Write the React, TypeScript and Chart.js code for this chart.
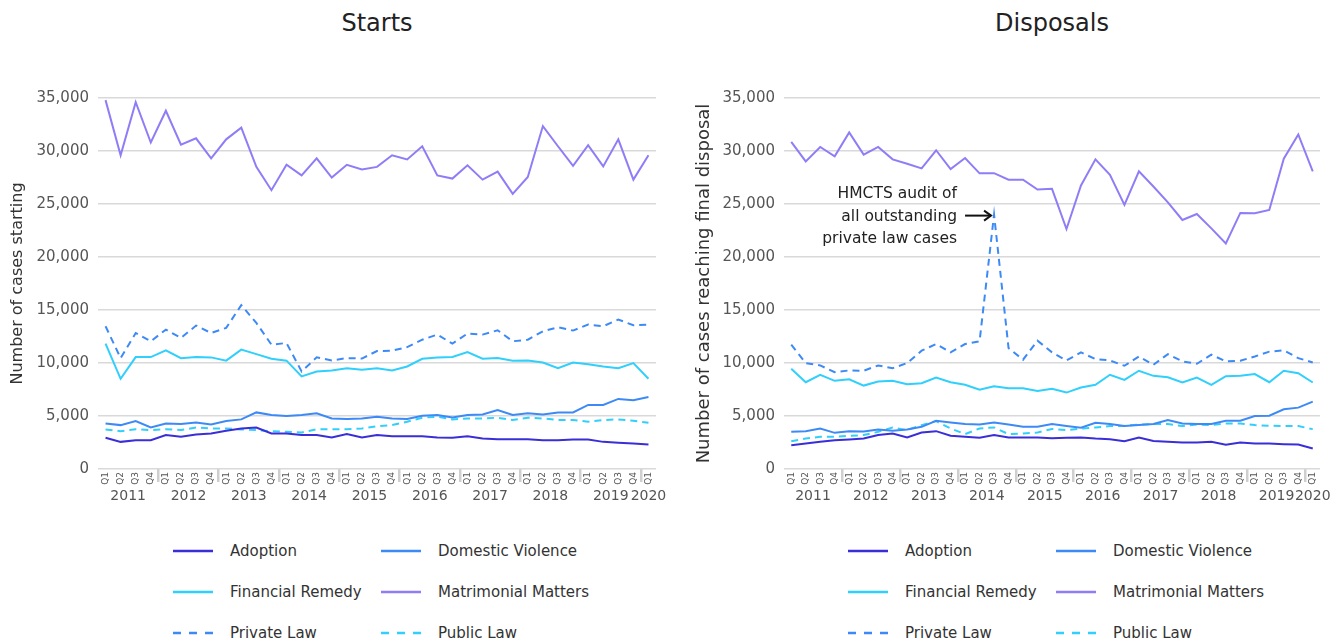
import React, { useEffect, useRef } from 'react';
import { Chart, registerables } from 'chart.js';

Chart.register(...registerables);

const FONT = "'DejaVu Sans', sans-serif";

const quarterLabels = [
  'Q1', 'Q2', 'Q3', 'Q4', 'Q1', 'Q2', 'Q3', 'Q4', 'Q1', 'Q2', 'Q3', 'Q4',
  'Q1', 'Q2', 'Q3', 'Q4', 'Q1', 'Q2', 'Q3', 'Q4', 'Q1', 'Q2', 'Q3', 'Q4',
  'Q1', 'Q2', 'Q3', 'Q4', 'Q1', 'Q2', 'Q3', 'Q4', 'Q1', 'Q2', 'Q3', 'Q4',
  'Q1',
];
const quarterYears = [
  '2011', '2011', '2011', '2011', '2012', '2012', '2012', '2012',
  '2013', '2013', '2013', '2013', '2014', '2014', '2014', '2014',
  '2015', '2015', '2015', '2015', '2016', '2016', '2016', '2016',
  '2017', '2017', '2017', '2017', '2018', '2018', '2018', '2018',
  '2019', '2019', '2019', '2019', '2020',
];

const seriesNames = ['Adoption', 'Domestic Violence', 'Financial Remedy', 'Matrimonial Matters', 'Private Law', 'Public Law'];
const seriesColors = ['#3a2ed8', '#3d8af7', '#30cffc', '#8e7df7', '#3d8af7', '#30cffc'];
const seriesDashed = [false, false, false, false, true, true];

// Starts
const startsAdoption = [2940, 2560, 2720, 2720, 3200, 3040, 3250, 3350, 3600, 3820, 3920, 3350, 3350, 3200, 3200, 2970, 3290, 2970, 3200, 3100, 3100, 3100, 2970, 2940, 3100, 2870, 2810, 2810, 2810, 2720, 2720, 2780, 2780, 2560, 2470, 2400, 2300];
const startsDomestic = [4300, 4140, 4520, 3920, 4300, 4240, 4390, 4200, 4520, 4680, 5340, 5090, 5000, 5090, 5250, 4770, 4710, 4770, 4930, 4770, 4710, 5030, 5090, 4870, 5090, 5150, 5570, 5090, 5250, 5150, 5340, 5340, 6040, 6040, 6610, 6480, 6800];
const startsFinancial = [11830, 8510, 10560, 10560, 11190, 10460, 10560, 10530, 10220, 11260, 10840, 10400, 10220, 8730, 9200, 9300, 9510, 9360, 9510, 9300, 9670, 10400, 10530, 10560, 11030, 10400, 10460, 10220, 10240, 10050, 9510, 10050, 9890, 9670, 9510, 9990, 8510];
const startsMatrimonial = [34800, 29600, 34600, 30800, 33800, 30600, 31200, 29300, 31100, 32200, 28500, 26300, 28700, 27700, 29300, 27500, 28700, 28250, 28500, 29600, 29200, 30450, 27700, 27400, 28650, 27300, 28050, 25950, 27550, 32350, 30450, 28600, 30550, 28550, 31100, 27300, 29600];
const startsPrivate = [13470, 10460, 12830, 12050, 13150, 12360, 13530, 12830, 13310, 15460, 13780, 11730, 11890, 9200, 10530, 10240, 10460, 10420, 11130, 11160, 11500, 12200, 12680, 11830, 12780, 12680, 13090, 12050, 12200, 12990, 13370, 13060, 13630, 13470, 14100, 13560, 13630];
const startsPublic = [3730, 3570, 3760, 3670, 3760, 3670, 3920, 3820, 3820, 3730, 3670, 3570, 3510, 3440, 3760, 3760, 3760, 3820, 4030, 4140, 4460, 4840, 4930, 4680, 4770, 4770, 4840, 4620, 4840, 4770, 4620, 4620, 4460, 4620, 4680, 4550, 4360];

// Disposals
const dispAdoption = [2250, 2400, 2560, 2720, 2780, 2870, 3200, 3350, 2970, 3440, 3570, 3130, 3040, 2940, 3200, 2970, 2970, 2970, 2900, 2940, 2970, 2870, 2810, 2620, 2970, 2650, 2560, 2500, 2500, 2560, 2300, 2500, 2400, 2400, 2340, 2300, 1930];
const dispDomestic = [3510, 3570, 3820, 3410, 3570, 3540, 3730, 3600, 3730, 3980, 4550, 4390, 4240, 4200, 4390, 4200, 3980, 3980, 4240, 4050, 3890, 4360, 4240, 4050, 4140, 4240, 4620, 4300, 4240, 4240, 4550, 4550, 5000, 5030, 5630, 5790, 6350];
const dispFinancial = [9450, 8190, 8890, 8320, 8470, 7870, 8250, 8320, 8000, 8090, 8630, 8190, 7940, 7490, 7810, 7620, 7620, 7370, 7560, 7210, 7680, 7940, 8890, 8410, 9270, 8790, 8660, 8160, 8630, 7940, 8760, 8790, 8950, 8190, 9270, 9040, 8160];
const dispMatrimonial = [30860, 29020, 30380, 29500, 31750, 29660, 30380, 29210, 28800, 28360, 30070, 28290, 29340, 27890, 27910, 27290, 27290, 26370, 26430, 22640, 26750, 29210, 27760, 24920, 28080, 26650, 25160, 23490, 24060, 22700, 21280, 24160, 24120, 24440, 29280, 31560, 28080];
const dispPrivate = [11730, 9990, 9770, 9130, 9300, 9270, 9770, 9510, 9990, 11160, 11790, 11000, 11790, 12050, 24000, 11410, 10310, 12110, 11000, 10240, 11000, 10370, 10240, 9740, 10620, 9830, 10840, 10150, 9930, 10780, 10150, 10210, 10620, 11070, 11190, 10460, 10050];
const dispPublic = [2620, 2870, 3040, 3040, 3130, 3200, 3510, 3920, 3670, 4140, 4520, 3820, 3290, 3820, 3920, 3290, 3350, 3440, 3780, 3670, 3820, 3920, 4050, 4080, 4200, 4240, 4240, 4050, 4200, 4140, 4300, 4300, 4140, 4080, 4050, 4050, 3760];

const yMin = 0;
const yMax = 35000;
const yStep = 5000;

const annotationLines = ['HMCTS audit of', 'all outstanding', 'private law cases'];

// year tick positions: centre of each year's quarters
const yearTicks: { year: string; pos: number }[] = [];
quarterYears.forEach((y) => {
  const last = yearTicks[yearTicks.length - 1];
  if (!last || last.year !== y) {
    const idx = quarterYears.reduce((acc: number[], yy, j) => (yy === y ? acc.concat(j) : acc), []);
    yearTicks.push({ year: y, pos: (idx[0] + idx[idx.length - 1]) / 2 });
  }
});

const peakNotePlugin = {
  id: 'peakNote',
  afterDatasetsDraw(chart: any, _args: any, opts: any) {
    if (!opts || !opts.lines) return;
    const data = chart.data.datasets[opts.datasetIndex].data as number[];
    let idx = 0;
    data.forEach((v, i) => { if (v > data[idx]) idx = i; });
    const px = chart.scales.x.getPixelForValue(idx);
    const py = chart.scales.y.getPixelForValue(data[idx]);
    const ctx = chart.ctx;
    ctx.save();
    ctx.strokeStyle = '#111';
    ctx.lineWidth = 2;
    const ay = py + 1;
    const x0 = px - 29;
    const x1 = px - 3;
    ctx.beginPath();
    ctx.moveTo(x0, ay);
    ctx.lineTo(x1, ay);
    ctx.stroke();
    ctx.beginPath();
    ctx.moveTo(x1 - 7, ay - 5);
    ctx.lineTo(x1, ay);
    ctx.lineTo(x1 - 7, ay + 5);
    ctx.stroke();
    ctx.fillStyle = '#222';
    ctx.font = `15.5px ${FONT}`;
    ctx.textAlign = 'right';
    ctx.textBaseline = 'middle';
    const lineH = 22.5;
    opts.lines.forEach((t: string, i: number) => {
      ctx.fillText(t, px - 37, py + 2 + (i - 1) * lineH);
    });
    ctx.restore();
  },
};

type PanelProps = {
  title: string;
  yTitle: string;
  yTitleSize: number;
  data: number[][];
  width: number;
  padLeft: number;
  padRight: number;
  yWidth: number;
  note?: boolean;
};

const CANVAS_H = 469;

function Panel({ title, yTitle, yTitleSize, data, width, padLeft, padRight, yWidth, note }: PanelProps) {
  const ref = useRef<HTMLCanvasElement>(null);
  useEffect(() => {
    const sepColor = (c: any) => {
      const i = c.index;
      return i > 0 && i < quarterYears.length && quarterYears[i] !== quarterYears[i - 1] ? '#cfcfcf' : 'rgba(0,0,0,0)';
    };
    const chart = new Chart(ref.current as HTMLCanvasElement, {
      type: 'line',
      data: {
        labels: quarterLabels,
        datasets: data.map((d, k) => ({
          label: seriesNames[k],
          data: d,
          borderColor: seriesColors[k],
          backgroundColor: seriesColors[k],
          borderWidth: 2,
          borderDash: seriesDashed[k] ? [7, 5] : [],
          pointRadius: 0,
          pointHoverRadius: 0,
          tension: 0,
          fill: false,
        })),
      },
      options: {
        animation: false,
        responsive: true,
        maintainAspectRatio: false,
        events: [],
        layout: { padding: { top: 60, left: padLeft, right: padRight, bottom: 2 } },
        plugins: {
          legend: { display: false },
          tooltip: { enabled: false },
          title: { display: false },
          peakNote: note ? { lines: annotationLines, datasetIndex: 4 } : {},
        } as any,
        scales: {
          x: {
            type: 'category',
            position: 'bottom',
            offset: true,
            weight: 0,
            grid: {
              offset: true,
              drawOnChartArea: false,
              drawTicks: true,
              tickLength: 13,
              tickWidth: 2.5,
              lineWidth: 2.5,
              color: sepColor,
              tickColor: sepColor,
            },
            border: { display: false },
            ticks: {
              autoSkip: false,
              minRotation: 90,
              maxRotation: 90,
              padding: -10,
              color: '#555',
              font: { size: 9, family: FONT },
            },
            afterFit: (s: any) => { s.height = 16; },
          },
          years: {
            type: 'linear',
            position: 'bottom',
            weight: 1,
            min: -0.5,
            max: quarterLabels.length - 0.5,
            grid: { display: false },
            border: { display: false },
            afterBuildTicks: (s: any) => { s.ticks = yearTicks.map((t) => ({ value: t.pos })); },
            ticks: {
              autoSkip: false,
              maxRotation: 0,
              minRotation: 0,
              padding: -5,
              color: '#555',
              font: { size: 14, family: FONT },
              callback: (v: any) => {
                const t = yearTicks.find((yt) => yt.pos === Number(v));
                return t ? t.year : '';
              },
            },
            afterFit: (s: any) => { s.height = 20; },
          },
          y: {
            min: yMin,
            max: yMax,
            grid: { color: '#d9d9d9', lineWidth: 1.5, drawTicks: false },
            border: { display: false },
            ticks: {
              stepSize: yStep,
              padding: 9,
              color: '#555',
              font: { size: 15, family: FONT },
              callback: (v: any) => Number(v).toLocaleString('en-US'),
            },
            title: {
              display: true,
              text: yTitle,
              color: '#333',
              font: { size: yTitleSize, family: FONT },
              padding: { top: 0, bottom: 0 },
            },
            afterFit: (s: any) => { s.width = yWidth; },
          },
        } as any,
      },
      plugins: note ? [peakNotePlugin as any] : [],
    });
    return () => chart.destroy();
  }, []);

  const plotLeft = padLeft + yWidth;
  const plotRight = width - padRight;
  const plotCenter = (plotLeft + plotRight) / 2;
  const legendLeft = plotCenter - 204;
  const colW = 208;

  return (
    <div style={{ width, flex: 'none' }}>
      <div
        style={{
          height: 30,
          lineHeight: '30px',
          fontSize: 24,
          color: '#222',
          fontFamily: FONT,
          textAlign: 'center',
          paddingLeft: plotLeft,
          paddingRight: padRight,
          boxSizing: 'border-box',
          width,
        }}
      >
        {title}
      </div>
      <div style={{ position: 'relative', width, height: CANVAS_H }}>
        <canvas ref={ref} />
      </div>
      <div
        style={{
          marginLeft: legendLeft,
          marginTop: 23,
          display: 'grid',
          gridTemplateColumns: `${colW}px ${colW}px`,
          fontFamily: FONT,
          fontSize: 15,
          color: '#333',
        }}
      >
        {seriesNames.map((n, k) => (
          <div key={n} style={{ display: 'flex', alignItems: 'center', height: 41, whiteSpace: 'nowrap' }}>
            <svg width={40} height={6} style={{ flex: 'none', marginRight: 17 }}>
              <line
                x1={0}
                y1={3}
                x2={40}
                y2={3}
                stroke={seriesColors[k]}
                strokeWidth={2.5}
                strokeDasharray={seriesDashed[k] ? '8 8' : undefined}
              />
            </svg>
            <span>{n}</span>
          </div>
        ))}
      </div>
    </div>
  );
}

export default function App() {
  return (
    <div style={{ display: 'flex', width: 1325 }}>
      <Panel
        title="Starts"
        yTitle="Number of cases starting"
        yTitleSize={16}
        data={[startsAdoption, startsDomestic, startsFinancial, startsMatrimonial, startsPrivate, startsPublic]}
        width={660}
        padLeft={0}
        padRight={12}
        yWidth={90}
      />
      <Panel
        title="Disposals"
        yTitle="Number of cases reaching final disposal"
        yTitleSize={18}
        data={[dispAdoption, dispDomestic, dispFinancial, dispMatrimonial, dispPrivate, dispPublic]}
        width={665}
        padLeft={26}
        padRight={13}
        yWidth={90}
        note
      />
    </div>
  );
}
